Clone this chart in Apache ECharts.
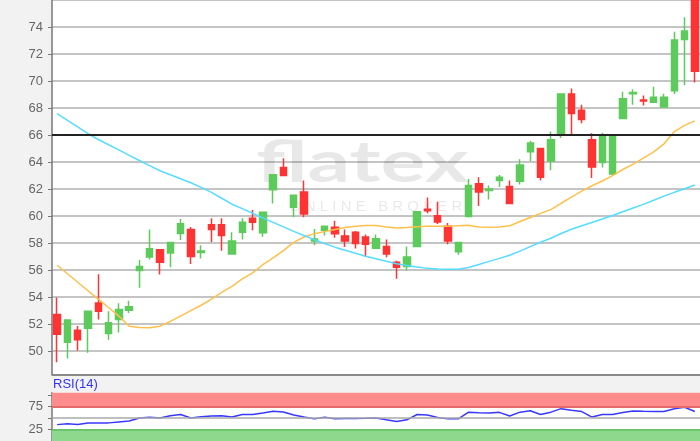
<!DOCTYPE html>
<html><head><meta charset="utf-8">
<script src="https://cdn.jsdelivr.net/npm/echarts@6/dist/echarts.min.js"></script>
<style>html,body{margin:0;padding:0;background:#f2f2f2}#c{width:700px;height:441px}</style>
</head><body><div id="c"></div>
<script>
const days = [1,2,3,4,5,6,7,8,9,10,11,12,13,14,15,16,17,18,19,20,21,22,23,24,25,26,27,28,29,30,31,32,33,34,35,36,37,38,39,40,41,42,43,44,45,46,47,48,49,50,51,52,53,54,55,56,57,58,59,60,61,62,63];
const opens  = [52.72,50.66,51.55,51.70,53.56,51.31,52.35,53.02,55.98,56.97,57.51,57.26,58.71,59.00,57.30,59.36,59.36,57.19,58.81,59.85,58.76,61.95,63.60,60.65,61.78,58.15,58.96,59.17,58.52,58.81,58.45,57.62,57.74,56.58,56.27,57.74,60.50,60.02,59.25,57.36,59.97,62.39,61.90,62.63,62.19,62.58,64.76,65.00,64.08,66.02,69.04,67.83,65.65,63.96,63.11,67.23,69.05,68.60,68.43,68.07,69.28,73.08,76.20];
const closes = [51.26,52.30,50.85,52.95,52.95,52.11,53.08,53.29,56.27,57.58,56.58,58.04,59.44,57.00,57.42,59.00,58.57,58.16,59.54,59.54,60.28,63.06,63.00,61.54,60.16,58.30,59.25,58.69,58.16,57.98,57.91,58.32,57.19,56.22,56.98,60.33,60.40,59.56,58.16,58.04,62.27,61.78,62.00,62.87,60.94,63.79,65.42,62.87,65.65,69.04,67.59,67.16,63.64,65.89,65.89,68.68,69.15,68.52,68.80,68.80,73.03,73.71,70.73];
const lows   = [49.18,49.45,50.05,49.88,52.35,50.85,51.38,52.83,54.70,56.78,55.67,56.22,58.23,56.46,56.87,58.09,57.43,57.15,58.27,58.96,58.47,60.94,62.97,59.92,59.92,57.84,58.57,58.40,57.72,57.60,56.98,57.60,56.95,55.37,55.98,57.70,60.21,59.41,57.91,57.14,59.90,60.74,61.23,62.15,60.90,62.34,64.08,62.63,63.40,65.78,66.02,66.87,62.82,63.60,63.05,67.20,68.25,68.19,68.40,68.05,69.04,69.70,69.89];
const highs  = [53.97,52.35,51.87,53.00,55.69,52.95,53.54,53.73,56.75,59.00,57.55,58.06,59.78,59.20,57.84,59.85,59.85,58.81,59.85,60.45,60.30,63.10,64.28,61.60,62.63,59.05,59.28,59.65,59.00,58.90,58.64,58.64,58.27,56.70,57.74,60.35,61.37,61.06,59.49,58.10,62.75,62.87,62.27,63.04,62.63,64.20,65.58,65.05,66.26,69.06,69.45,68.25,66.14,66.18,65.95,69.21,69.40,68.92,69.57,69.05,73.64,74.73,76.40];
const maOrange = [56.36,55.73,55.10,54.47,53.85,53.23,52.60,51.85,51.75,51.73,51.85,52.20,52.60,53.00,53.40,53.85,54.35,54.80,55.35,55.80,56.40,56.90,57.45,58.05,58.45,58.70,58.85,59.00,59.15,59.25,59.30,59.30,59.20,59.12,59.15,59.22,59.25,59.25,59.25,59.28,59.33,59.20,59.17,59.20,59.29,59.60,59.90,60.20,60.48,60.95,61.40,61.85,62.25,62.60,63.00,63.45,63.85,64.30,64.75,65.35,66.25,66.72,67.05];
const maCyan = [67.58,67.08,66.60,66.10,65.67,65.28,64.90,64.50,64.12,63.74,63.36,63.06,62.77,62.47,62.13,61.76,61.32,60.88,60.55,60.21,59.87,59.54,59.20,58.87,58.56,58.26,57.97,57.70,57.47,57.25,57.03,56.84,56.65,56.47,56.35,56.24,56.13,56.08,56.06,56.06,56.20,56.42,56.65,56.87,57.10,57.41,57.74,58.06,58.36,58.71,59.03,59.28,59.53,59.78,60.04,60.32,60.60,60.87,61.17,61.48,61.76,62.03,62.30];
const rsi = [35.6,37.4,35.8,39.2,39.4,39.4,41.5,43.6,49.8,51.8,50.0,55.0,57.5,50.1,52.5,54.6,55.0,52.3,57.6,57.6,60.7,64.6,63.0,56.4,52.2,48.1,51.6,48.6,48.9,48.7,49.3,50.0,46.0,42.4,46.0,57.6,56.6,51.0,48.1,48.1,62.7,61.6,60.8,62.3,54.5,62.7,65.9,57.6,62.7,70.3,66.8,64.0,52.0,57.6,57.6,62.0,65.2,64.5,64.0,64.0,70.3,73.5,64.0];
const levelLine = 66;
const rsiOverbought = 75, rsiMid = 50, rsiOversold = 25;
const rsiLabels = [75, 25];
const priceMin = 48.287, priceMax = 76, priceStep = 2;
const rsiMin = 0, rsiMax = 105, rsiStep = 25;

const candles = opens.map((o, i) => [o, closes[i], lows[i], highs[i]]);
const chart = echarts.init(document.getElementById('c'), null, {renderer: 'canvas'});
const GREEN = '#5ccb5c', RED = '#ff3333';
chart.setOption({
  animation: false,
  backgroundColor: '#f2f2f2',
  grid: [
    {left: 52, right: 0, top: -7.56, height: 381.86, show: true, backgroundColor: '#fff', borderWidth: 0},
    {left: 52, right: 0, top: 392.7, height: 55.4, show: true, backgroundColor: '#fff', borderWidth: 0}
  ],
  xAxis: [
    {type: 'category', gridIndex: 0, data: days, boundaryGap: true,
     axisLine: {show: true, lineStyle: {color: '#777', width: 1.5}}, axisTick: {show: false}, axisLabel: {show: false}, splitLine: {show: false}},
    {type: 'category', gridIndex: 1, data: days, boundaryGap: true,
     axisLine: {show: false}, axisTick: {show: false}, axisLabel: {show: false}, splitLine: {show: false}}
  ],
  yAxis: [
    {type: 'value', gridIndex: 0, min: priceMin, max: priceMax, minInterval: priceStep, maxInterval: priceStep, splitNumber: 14,
     axisLine: {show: true, lineStyle: {color: '#777', width: 1.5}},
     axisTick: {show: true, length: 4, lineStyle: {color: '#777'}},
     axisLabel: {showMinLabel: false, showMaxLabel: false, color: '#666', fontSize: 13, fontFamily: 'Liberation Sans', margin: 9},
     splitLine: {show: true, lineStyle: {color: '#b0b0b0', width: 1.5}}},
    {type: 'value', gridIndex: 1, min: rsiMin, max: rsiMax, interval: rsiStep,
     axisLine: {show: true, lineStyle: {color: '#777', width: 1.5}},
     axisTick: {show: true, length: 4, lineStyle: {color: '#777'}},
     axisLabel: {showMaxLabel: false, color: '#666', fontSize: 13, fontFamily: 'Liberation Sans', margin: 9,
       formatter: v => rsiLabels.indexOf(v) >= 0 ? String(v) : ''},
     splitLine: {show: false}}
  ],
  graphic: [
    {type: 'text', x: 256, y: 134, scaleX: 1.45, z: 1, silent: true,
     style: {text: 'flatex', fontSize: 58, fontWeight: 'bold', fontFamily: 'Lato', fill: 'rgba(0,0,0,0.09)'}},
    {type: 'text', x: 289, y: 199, z: 1, silent: true,
     style: {text: 'O N L I N E   B R O K E R', fontSize: 15, fontFamily: 'Liberation Sans', fill: 'rgba(0,0,0,0.09)'}},
    {type: 'text', x: 53, y: 378, z: 5, silent: true,
     style: {text: 'RSI(14)', fontSize: 13, fontFamily: 'Liberation Sans', fill: '#3333ff'}}
  ],
  series: [
    {type: 'candlestick', xAxisIndex: 0, yAxisIndex: 0, data: candles, barWidth: 7,
     itemStyle: {color: GREEN, color0: RED, borderColor: GREEN, borderColor0: RED, borderWidth: 1.5}},
    {type: 'line', xAxisIndex: 0, yAxisIndex: 0, data: maOrange, showSymbol: false, symbol: 'none',
     lineStyle: {color: '#ffc04a', width: 1.5}},
    {type: 'line', xAxisIndex: 0, yAxisIndex: 0, data: maCyan, showSymbol: false, symbol: 'none',
     lineStyle: {color: '#55dcff', width: 1.5},
     markLine: {silent: true, symbol: 'none', label: {show: false}, lineStyle: {color: '#222', width: 2, type: 'solid'},
       data: [{yAxis: levelLine}]}},
    {type: 'line', xAxisIndex: 1, yAxisIndex: 1, data: rsi, showSymbol: false, symbol: 'none',
     lineStyle: {color: '#3838ff', width: 1.5},
     markArea: {silent: true, data: [
       [{yAxis: rsiOverbought, itemStyle: {color: '#ff8c8c'}}, {yAxis: rsiMax}],
       [{yAxis: rsiMin, itemStyle: {color: '#8ed88e'}}, {yAxis: rsiOversold}]
     ]},
     markLine: {silent: true, symbol: 'none', label: {show: false},
       data: [
         {yAxis: rsiOverbought, lineStyle: {color: '#e66a6a', width: 2, type: 'solid'}},
         {yAxis: rsiMid, lineStyle: {color: '#aaa', width: 1.5, type: 'solid'}},
         {yAxis: rsiOversold, lineStyle: {color: '#6cc46c', width: 2, type: 'solid'}}
       ]}}
  ]
});
</script></body></html>
